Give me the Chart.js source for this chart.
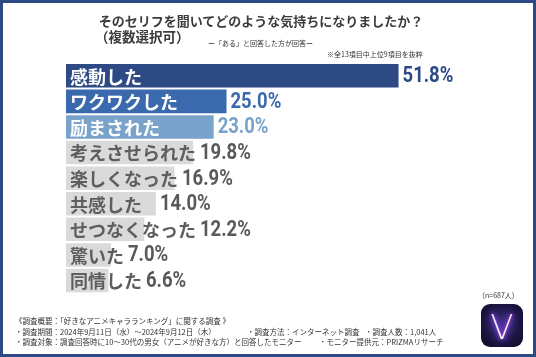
<!DOCTYPE html>
<html lang="ja">
<head>
<meta charset="utf-8">
<script src="https://cdn.jsdelivr.net/npm/chart.js@4"></script>
<style>
  html, body { margin: 0; padding: 0; background: #fff; }
  #wrap { position: relative; width: 536px; height: 357px; overflow: hidden; background: #fff;
          font-family: "Noto Sans CJK JP", "Noto Sans", sans-serif; color: #3a3a3a; }
  #c { position: absolute; left: 0; top: 0; }
  .t { position: absolute; white-space: nowrap; line-height: 1; }
  #frame { position: absolute; left: 0; top: 0; width: 536px; height: 357px; box-sizing: border-box;
           border: 3px solid #2E4A85; pointer-events: none; }
  #logo { position: absolute; left: 481px; top: 304px; width: 42px; height: 43px; border-radius: 9px;
          background: radial-gradient(circle at 50% 45%, #3b2a78 0%, #1d1642 55%, #0d0b22 100%);
          overflow: hidden; }
  #logo span { position: absolute; left: 0; width: 42px; top: 3px; text-align: center; font-family: "DejaVu Sans", sans-serif;
          font-size: 34px; font-weight: 200;
          background: linear-gradient(90deg, #b9c8ff 0%, #ffffff 50%, #ffb3f2 100%);
          -webkit-background-clip: text; background-clip: text; color: transparent;
          filter: drop-shadow(0 0 2px #d050ff) drop-shadow(0 0 4px #6a4cff); }
</style>
</head>
<body>
<div id="wrap">
  <canvas id="c" width="536" height="357"></canvas>
  <div class="t" style="left:0;width:522px;text-align:center;top:14px;font-size:13px;font-weight:bold;color:#3c3c3c;">そのセリフを聞いてどのような気持ちになりましたか？</div>
  <div class="t" style="left:95px;top:30px;font-size:13.5px;font-weight:bold;color:#3c3c3c;">（複数選択可）</div>
  <div class="t" style="left:208px;top:40px;font-size:7px;color:#333;">ー「ある」と回答した方が回答ー</div>
  <div class="t" style="left:327px;top:51px;font-size:7px;color:#333;">※全13項目中上位9項目を抜粋</div>
  <div class="t" style="left:478px;top:292px;font-size:7px;color:#333;">（n=687人）</div>
  <div class="t" style="left:15px;top:317px;font-size:7.5px;color:#333;">《調査概要：「好きなアニメキャラランキング」に関する調査 》</div>
  <div class="t" style="left:15px;top:327.5px;font-size:7.5px;color:#333;">・調査期間：2024年9月11日（水）～2024年9月12日（木）</div>
  <div class="t" style="left:247px;top:327.5px;font-size:7.5px;color:#333;">・調査方法：インターネット調査</div>
  <div class="t" style="left:365px;top:327.5px;font-size:7.5px;color:#333;">・調査人数：1,041人</div>
  <div class="t" style="left:15px;top:337.5px;font-size:7.5px;color:#333;">・調査対象：調査回答時に10～30代の男女（アニメが好きな方）と回答したモニター</div>
  <div class="t" style="left:319px;top:337.5px;font-size:7.5px;color:#333;">・モニター提供元：PRIZMAリサーチ</div>
  <div id="logo"><span>V</span></div>
  <div id="frame"></div>
</div>
<script>
const categories = ["感動した", "ワクワクした", "励まされた", "考えさせられた", "楽しくなった", "共感した", "せつなくなった", "驚いた", "同情した"];
const values = [51.8, 25.0, 23.0, 19.8, 16.9, 14.0, 12.2, 7.0, 6.6];
const valueLabels = ["51.8%", "25.0%", "23.0%", "19.8%", "16.9%", "14.0%", "12.2%", "7.0%", "6.6%"];

const barColors = ["#2D4A84", "#3B69AD", "#79A3CB", "#DADADA", "#DADADA", "#DADADA", "#DADADA", "#DADADA", "#DADADA"];
const valueColors = ["#2D4A84", "#3B69AD", "#79A3CB", "#595959", "#595959", "#595959", "#595959", "#595959", "#595959"];
const labelColors = ["#ffffff", "#ffffff", "#ffffff", "#5e5e5e", "#5e5e5e", "#5e5e5e", "#5e5e5e", "#5e5e5e", "#5e5e5e"];

const labelPlugin = {
  id: 'barLabels',
  afterDatasetsDraw(chart) {
    const ctx = chart.ctx;
    const meta = chart.getDatasetMeta(0);
    const left = chart.chartArea.left;
    meta.data.forEach((bar, i) => {
      ctx.save();
      ctx.textBaseline = 'middle';
      ctx.textAlign = 'left';
      ctx.font = 'bold 18px "Noto Sans CJK JP", sans-serif';
      ctx.fillStyle = labelColors[i];
      const lx = left + 4;
      ctx.fillText(categories[i], lx, bar.y + 1);
      const lw = ctx.measureText(categories[i]).width;
      const vx = Math.max(bar.x, lx + lw) + 4;
      ctx.font = 'bold 22px Roboto, sans-serif';
      ctx.fillStyle = valueColors[i];
      ctx.translate(vx, bar.y + 1);
      ctx.scale(0.84, 1);
      ctx.fillText(valueLabels[i], 0, 0);
      ctx.restore();
    });
  }
};

new Chart(document.getElementById('c'), {
  type: 'bar',
  data: {
    labels: categories,
    datasets: [{
      data: values,
      backgroundColor: barColors,
      borderWidth: 0,
      barPercentage: 0.92,
      categoryPercentage: 1.0
    }]
  },
  options: {
    indexAxis: 'y',
    responsive: false,
    animation: false,
    devicePixelRatio: 1,
    layout: { padding: { left: 66, top: 63, right: 84.8, bottom: 63.7 } },
    scales: {
      x: { display: false, min: 0, max: 60 },
      y: { display: false }
    },
    plugins: { legend: { display: false }, tooltip: { enabled: false }, title: { display: false } }
  },
  plugins: [labelPlugin]
});
</script>
</body>
</html>
